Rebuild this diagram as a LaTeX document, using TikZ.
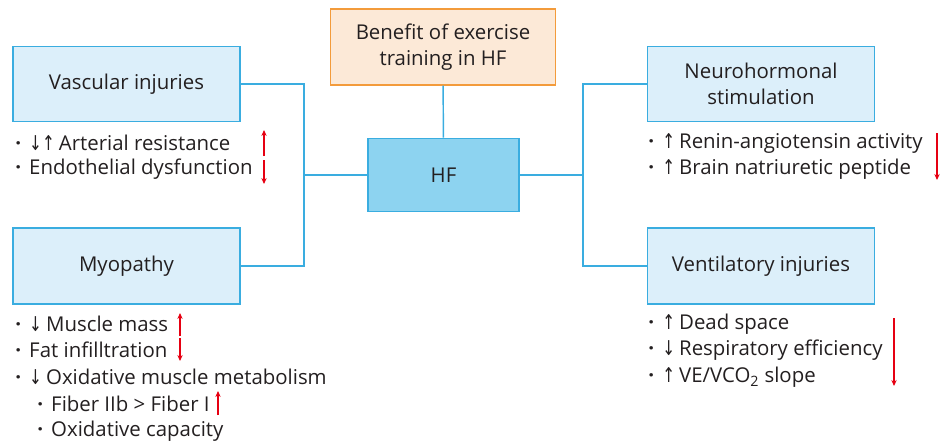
\documentclass[tikz,border=0pt]{standalone}
\usepackage{fontspec}
\usepackage{graphicx}
\setmainfont{Open Sans}
\newfontfamily\arrowfont{DejaVu Sans}
\usetikzlibrary{positioning,arrows.meta,calc}
\definecolor{boxblue}{HTML}{DCEFFA}
\definecolor{lineblue}{HTML}{3AADE0}
\definecolor{hfblue}{HTML}{8DD3F0}
\definecolor{topfill}{HTML}{FCE9D7}
\definecolor{topline}{HTML}{F39B3B}
\definecolor{txtgray}{HTML}{231F20}
\definecolor{redmark}{HTML}{E60012}
\newcommand{\uarr}{\scalebox{0.75}[1]{\arrowfont\char"2191}}
\newcommand{\darr}{\scalebox{0.75}[1]{\arrowfont\char"2193}}
\newcommand{\bul}{{\bfseries\char"00B7}\hspace{0.4em}}
\tikzset{
  catbox/.style={draw=lineblue, fill=boxblue, line width=1.1pt, minimum width=170pt, minimum height=56pt, align=center, text=txtgray, font=\fontsize{15.3}{20}\selectfont},
  item/.style={anchor=west, inner sep=0pt, text=txtgray, font=\fontsize{15.3}{19}\selectfont},
  link/.style={draw=lineblue, line width=1.1pt},
  redline/.style={draw=redmark, line width=1pt, -{Stealth[length=4.5pt,width=4pt]}}
}
\begin{document}
\begin{tikzpicture}[x=0.75pt, y=-0.75pt]
\useasboundingbox (0,0) rectangle (945,444);
% boxes
\node[catbox, draw=topline, fill=topfill, minimum width=169pt, minimum height=57pt] (benefit) at (443,47) {Benefit of exercise\\training in HF};
\node[catbox, fill=hfblue, minimum width=113pt, minimum height=55pt] (hf) at (443.5,175) {HF};
\node[catbox] (vasc) at (126.5,84) {Vascular injuries};
\node[catbox, minimum height=57pt] (myo) at (126.5,266) {Myopathy};
\node[catbox] (neuro) at (761,84) {Neurohormonal\\stimulation};
\node[catbox, minimum height=57pt] (vent) at (761,266) {Ventilatory injuries};
% junctions
\coordinate (jl) at (304,175);
\coordinate (jr) at (583,175);
\path[link] (benefit) -- (hf);
\path[link] (hf.west) -- (jl);
\path[link] (hf.east) -- (jr);
\path[link] (vasc.east) -| (jl) |- (myo.east);
\path[link] (neuro.west) -| (jr) |- (vent.west);
% left lists
\node[item] (v1) at (15,143) {\bul\darr\uarr\hspace{0.2em}Arterial resistance};
\node[item] (v2) at (15,169) {\bul Endothelial dysfunction};
\node[item] (m1) at (15,324) {\bul\darr\hspace{0.2em}Muscle mass};
\node[item] (m2) at (15,350) {\bul Fat infilltration};
\node[item] (m3) at (15,377) {\bul\darr\hspace{0.2em}Oxidative muscle metabolism};
\node[item] (m4) at (37,404) {\bul Fiber IIb > Fiber I};
\node[item] (m5) at (37,431) {\bul Oxidative capacity};
% right lists
\node[item] (n1) at (648,143) {\bul\uarr\hspace{0.2em}Renin-angiotensin activity};
\node[item] (n2) at (648,169) {\bul\uarr\hspace{0.2em}Brain natriuretic peptide};
\node[item] (w1) at (648,324) {\bul\uarr\hspace{0.2em}Dead space};
\node[item] (w2) at (648,350) {\bul\darr\hspace{0.2em}Respiratory efficiency};
\node[item] (w3) at (648,377) {\bul\uarr\hspace{0.2em}VE/VCO\textsubscript{2} slope};
% red marks
\draw[redline] (264,156) -- (264,130);
\draw[redline] (264,160) -- (264,184);
\draw[redline] (180,336) -- (180,313);
\draw[redline] (180,338) -- (180,361);
\draw[redline] (218,415) -- (218,391);
\draw[redline] (937,133) -- (937,180);
\draw[redline] (894,318) -- (894,386);
\end{tikzpicture}
\end{document}
